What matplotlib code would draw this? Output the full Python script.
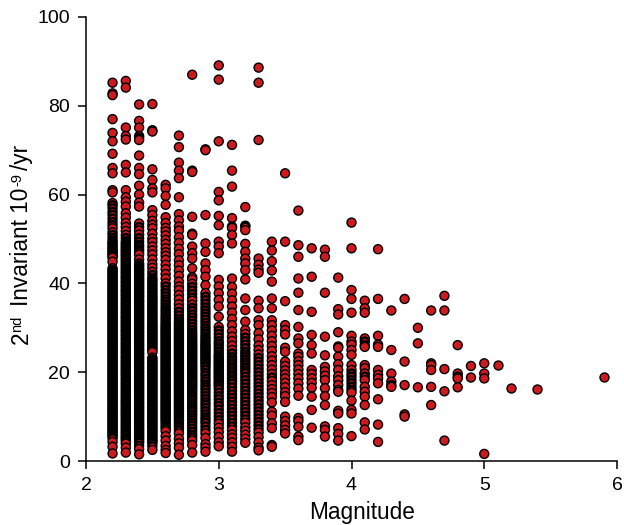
# Magnitude vs 2nd invariant scatter
import matplotlib
matplotlib.use('Agg')
import matplotlib.pyplot as plt

# values, one list per magnitude bin
m22 = [85.2,82.8,82.4,77.0,73.9,72.0,69.2,66.0,64.8,61.0,60.5,58.1,57.6,56.9,56.1,55.4,54.6,53.8,53.1,52.4,51.5,50.9,50.2,49.6,49.2,48.9,48.5,48.1,47.8,47.4,47.1,46.8,46.5,46.1,45.8,44.9,43.4,43.0,42.7,42.4,42.0,41.7,41.3,41.0,40.7,40.3,40.0,39.7,39.3,39.0,38.7,38.3,38.0,37.7,37.4,37.0,36.7,36.4,36.0,35.7,35.4,35.0,34.7,34.4,34.1,33.7,33.4,33.1,32.7,32.4,32.1,31.8,31.4,31.1,30.8,30.4,30.1,29.8,29.5,29.1,28.8,28.5,28.1,27.8,27.5,27.2,26.8,26.5,26.2,25.8,25.5,25.2,24.9,24.5,24.2,23.9,23.5,23.2,22.9,22.6,22.2,21.9,21.6,21.2,20.9,20.6,20.3,19.9,19.6,19.3,18.9,18.6,18.3,18.0,17.6,17.3,17.0,16.6,16.3,16.0,15.7,15.3,15.0,14.7,14.3,14.0,13.7,13.4,13.0,12.7,12.4,12.0,11.7,11.4,11.1,10.7,10.4,10.1,9.7,9.4,9.1,8.8,8.4,8.1,7.8,7.4,7.1,6.8,6.5,6.1,5.8,5.5,5.1,4.3,3.2,1.7]
m23 = [85.6,84.1,75.1,73.2,72.4,66.7,65.0,61.0,59.4,58.4,57.3,55.8,54.8,53.6,52.7,51.8,50.9,50.2,49.5,49.1,48.8,48.4,48.1,47.7,47.4,47.1,46.7,46.4,46.1,45.7,45.4,45.1,44.7,44.4,44.1,43.7,43.4,43.1,42.7,42.4,42.1,41.7,41.4,41.1,40.7,40.4,40.1,39.7,39.4,39.1,38.7,38.4,38.1,37.7,37.4,37.1,36.7,36.4,36.1,35.7,35.4,35.1,34.7,34.4,34.1,33.7,33.4,33.1,32.7,32.4,32.1,31.7,31.4,31.1,30.7,30.4,30.1,29.7,29.4,29.1,28.7,28.4,28.1,27.7,27.4,27.1,26.7,26.4,26.1,25.7,25.4,25.1,24.7,24.4,24.1,23.7,23.4,23.1,22.7,22.4,22.1,21.7,21.4,21.1,20.7,20.4,20.1,19.7,19.4,19.1,18.7,18.4,18.1,17.7,17.4,17.1,16.7,16.4,16.1,15.7,15.4,15.1,14.7,14.4,14.1,13.7,13.4,13.1,12.7,12.4,12.1,11.7,11.4,11.1,10.7,10.4,10.1,9.7,9.4,9.1,8.7,8.4,8.1,7.7,7.4,7.1,6.7,6.4,6.1,5.7,5.4,5.1,4.8,4.4,3.9,3.0,1.9]
m24 = [80.3,76.6,75.1,73.2,72.8,72.3,68.8,66.0,64.6,62.0,60.0,58.2,57.3,53.5,52.7,51.9,51.0,50.2,49.4,48.7,48.2,47.6,47.1,46.5,45.4,44.5,44.1,43.8,43.4,43.1,42.8,42.4,42.1,41.8,41.4,41.1,40.8,40.4,40.1,39.8,39.4,39.1,38.8,38.4,38.1,37.8,37.4,37.1,36.8,36.4,36.1,35.8,35.4,35.1,34.8,34.4,34.1,33.8,33.4,33.1,32.8,32.4,32.1,31.8,31.4,31.1,30.8,30.4,30.1,29.8,29.4,29.1,28.8,28.4,28.1,27.8,27.4,27.1,26.8,26.4,26.1,25.8,25.4,25.1,24.8,24.4,24.1,23.8,23.4,23.1,22.8,22.4,22.1,21.8,21.4,21.1,20.8,20.4,20.1,19.8,19.4,19.1,18.8,18.4,18.1,17.8,17.4,17.1,16.8,16.4,16.1,15.8,15.4,15.1,14.8,14.4,14.1,13.8,13.4,13.1,12.8,12.4,12.1,11.8,11.4,11.1,10.8,10.4,10.1,9.8,9.4,9.1,8.8,8.4,8.1,7.8,7.4,7.1,6.8,6.4,6.1,5.8,5.4,5.1,4.8,4.4,4.1,3.4,2.7,1.5]
m25 = [80.4,74.5,74.2,65.7,63.3,61.4,60.5,56.5,55.4,54.1,53.2,52.4,51.2,50.1,49.3,48.3,47.4,46.5,45.4,44.3,43.5,42.6,41.9,41.2,40.8,40.4,39.9,39.5,39.0,38.6,38.2,37.8,37.3,36.9,36.5,36.1,35.7,35.3,34.9,34.5,34.1,33.7,33.3,32.9,32.5,32.1,31.7,31.3,30.9,30.6,30.3,29.9,29.6,29.3,28.9,28.6,28.3,27.9,27.6,27.3,26.9,26.6,26.3,25.9,25.6,25.3,24.9,24.5,23.3,22.9,22.6,22.3,21.9,21.6,21.3,20.9,20.6,20.3,19.9,19.6,19.3,18.9,18.6,18.3,17.9,17.6,17.3,16.9,16.6,16.3,15.9,15.6,15.3,14.9,14.6,14.3,13.9,13.6,13.3,12.9,12.6,12.3,11.9,11.6,11.3,10.9,10.6,10.3,9.9,9.6,9.3,8.9,8.6,8.3,7.9,7.6,7.3,6.9,6.6,6.3,5.9,5.6,5.3,4.9,4.6,4.3,3.9,3.3,2.5]
m26 = [62.2,61.4,59.7,57.7,54.9,53.6,52.5,51.7,50.8,49.8,48.9,47.9,47.0,46.2,45.3,44.2,43.2,42.1,41.1,40.0,39.3,38.5,37.8,37.1,36.4,35.8,35.2,34.6,34.1,33.6,33.1,32.6,32.1,31.7,31.2,30.8,30.4,30.0,29.7,29.3,29.0,28.6,28.3,27.9,27.6,27.2,26.9,26.5,26.2,25.8,25.5,25.1,24.8,24.4,24.1,23.7,23.4,23.0,22.7,22.3,22.0,21.6,21.3,20.9,20.6,20.2,19.9,19.5,19.2,18.8,18.5,18.1,17.8,17.4,17.1,16.7,16.4,16.0,15.7,15.3,15.0,14.6,14.3,13.9,13.6,13.2,12.9,12.5,12.2,11.8,11.5,11.1,10.8,10.4,10.1,9.7,9.4,9.0,8.6,8.1,7.7,7.3,6.7,5.6,4.6,3.4,2.5,1.8]
m27 = [73.3,70.7,67.2,65.4,63.7,59.4,55.6,54.2,52.8,51.9,50.4,49.1,47.8,46.6,45.2,44.1,42.9,41.7,40.4,39.3,38.5,37.4,36.4,35.3,34.4,33.6,32.8,32.0,31.4,31.0,30.6,30.2,29.8,29.4,29.0,28.6,28.2,27.8,27.4,27.0,26.6,26.2,25.8,25.4,25.0,24.6,24.2,23.8,23.4,23.0,22.6,22.2,21.8,21.4,21.0,20.6,20.2,19.8,19.4,19.0,18.6,18.2,17.8,17.4,17.0,16.6,16.2,15.8,15.4,15.0,14.6,14.2,13.8,13.4,13.0,12.6,12.2,11.8,11.4,11.0,10.6,10.2,9.8,9.4,9.0,8.5,8.0,7.5,6.9,6.2,5.0,4.0,3.0,1.4]
m28 = [87.0,65.4,65.1,55.0,51.2,50.9,48.3,46.8,45.6,43.4,41.4,40.9,39.9,39.2,38.4,37.6,36.8,36.1,35.2,34.5,33.8,33.0,32.3,31.6,30.9,30.2,29.5,28.9,28.4,27.9,27.4,26.9,26.5,26.1,25.7,25.3,24.9,24.5,24.1,23.7,23.3,22.9,22.5,22.1,21.7,21.3,20.9,20.5,20.1,19.7,19.3,18.9,18.5,18.1,17.7,17.3,16.9,16.5,16.1,15.6,15.1,14.6,14.1,13.6,13.0,12.5,12.0,11.5,11.0,10.4,9.8,9.2,8.6,8.0,7.3,6.6,5.9,5.3,4.6,3.6,1.9]
m29 = [70.2,70.0,55.4,49.0,47.1,44.5,43.0,41.5,39.6,37.8,37.0,36.2,35.4,34.6,33.9,33.2,32.5,31.8,31.1,30.4,29.8,29.2,28.6,28.0,27.5,27.0,26.5,26.1,25.7,25.3,24.9,24.5,24.1,23.7,23.3,22.9,22.5,22.1,21.6,21.1,20.5,19.8,19.2,18.5,17.9,17.2,16.6,16.0,15.3,14.6,13.9,13.2,12.6,11.9,11.2,10.5,9.8,9.2,8.6,7.8,7.0,6.2,5.2,3.8,3.0,2.1]
m30 = [89.1,85.9,72.0,60.6,58.7,55.2,53.1,49.4,48.3,46.8,40.8,39.3,37.8,36.3,34.8,32.5,30.2,29.4,28.6,27.8,27.0,26.4,25.8,25.2,24.6,24.0,23.6,23.2,22.8,22.4,22.0,21.6,21.2,20.8,20.4,20.0,19.6,19.2,18.8,18.4,18.0,17.6,17.2,16.8,16.2,15.4,14.6,13.9,13.1,12.4,11.6,10.8,10.0,9.2,8.4,7.5,6.5,5.4,4.2,3.3]
m31 = [71.2,65.4,61.8,54.7,52.8,52.5,50.9,49.0,41.1,39.2,37.7,36.2,34.8,33.4,32.0,30.6,29.2,28.0,27.0,26.0,25.0,24.2,23.4,22.8,22.2,21.6,21.0,20.4,19.8,19.2,18.6,18.0,17.4,16.6,15.8,15.0,14.2,13.4,12.6,11.8,11.0,10.2,9.4,8.6,7.8,7.0,6.0,5.2,4.2,3.2,2.1]
m32 = [57.2,53.0,52.8,52.0,48.9,47.1,45.6,44.5,43.0,40.9,36.6,34.0,31.4,29.5,28.6,27.8,27.0,26.2,25.4,24.6,24.0,23.4,22.8,22.2,21.6,21.0,20.4,19.8,19.0,18.2,17.4,16.6,15.8,15.0,14.2,13.4,12.6,11.8,11.0,10.2,9.4,8.6,7.6,6.8,5.9,5.0,4.1]
m33 = [88.6,85.2,72.3,45.6,44.2,43.1,42.4,36.1,34.4,31.7,30.6,28.8,27.4,26.0,25.0,24.0,23.2,22.4,21.6,20.8,20.0,19.2,18.4,17.6,16.8,16.0,15.2,14.4,13.6,12.8,12.0,11.2,10.4,9.6,8.8,8.0,7.2,6.4,5.4,4.2,3.0,2.4]
m34 = [49.4,47.4,45.0,42.9,40.4,36.6,34.4,31.7,30.6,29.4,28.2,27.0,25.9,24.8,23.6,22.6,21.6,20.6,19.6,18.8,18.0,17.1,16.2,15.3,14.4,13.2,11.1,10.2,8.5,7.4,3.6,3.2]
m35 = [64.8,49.4,36.0,30.6,29.5,28.5,25.5,24.6,22.4,21.4,20.4,19.5,18.6,17.6,16.6,15.5,14.6,13.3,10.0,9.0,8.0,7.0,6.2]
m36 = [56.4,48.6,46.0,41.1,37.9,34.0,30.2,27.6,26.5,24.2,23.5,22.5,21.6,20.6,19.6,18.6,17.5,16.3,14.7,9.7,9.0,7.7,5.5,4.7]
m37 = [47.9,41.5,33.6,28.4,26.1,24.2,20.5,19.6,18.6,17.6,16.5,14.5,11.5,7.5]
m38 = [47.6,46.0,37.9,28.0,23.8,21.2,20.2,19.2,18.2,16.4,14.6,12.6,7.8,7.0,5.5]
m39 = [41.3,34.2,33.0,29.0,25.8,25.5,23.5,21.8,20.5,19.1,18.2,17.1,16.0,15.6,11.3,10.7,7.4,6.1,4.6]
m40 = [53.7,47.9,38.5,36.5,33.4,28.2,26.9,26.2,25.0,23.9,21.6,20.5,19.7,19.0,18.2,17.5,16.7,16.0,15.4,13.6,11.5,10.7,5.6]
m41 = [36.1,34.4,33.4,27.6,26.9,26.1,25.7,21.6,20.9,19.7,19.0,18.2,16.7,15.6,14.5,12.6,8.7,7.1]
m42 = [47.7,36.5,28.2,26.2,25.7,20.5,19.4,18.6,17.5,13.9,8.2,4.3]
m43 = [33.9,25.0,19.7,17.9,17.1,16.7]
m44 = [36.5,22.4,17.1,10.5,10.0]
m45 = [30.0,26.5,16.6]
m46 = [33.9,22.0,21.6,20.5,16.7,12.6]
m47 = [37.2,33.9,20.7,15.7,4.6]
m48 = [26.1,19.7,19.0,18.6,16.6]
m49 = [21.4,18.8]
m50 = [22.0,19.7,18.6,1.6]
m51 = [21.6]
m52 = [16.4]
m54 = [16.3]
m59 = [19.0]

mags = [2.2,2.3,2.4,2.5,2.6,2.7,2.8,2.9,3.0,3.1,3.2,3.3,3.4,3.5,3.6,3.7,3.8,3.9,4.0,4.1,4.2,4.3,4.4,4.5,4.6,4.7,4.8,4.9,5.0,5.1,5.2,5.4,5.9]
bins = [m22,m23,m24,m25,m26,m27,m28,m29,m30,m31,m32,m33,m34,m35,m36,m37,m38,m39,m40,m41,m42,m43,m44,m45,m46,m47,m48,m49,m50,m51,m52,m54,m59]

xticks = [2,3,4,5,6]
yticks = [0,20,40,60,80,100]

plt.rcParams['font.family'] = ['Liberation Sans', 'DejaVu Sans']

fig = plt.figure(figsize=(6.24, 5.25), dpi=100)
ax = fig.add_axes([86/624, (525-461)/525, (617-86)/624, (461-17)/525])

# lower points sit on top of the ones above them
# points packed tight in a bin get a fatter edge so the stack goes black
for m, vals in zip(mags, bins):
    sizes = []
    widths = []
    for i, v in enumerate(vals):
        tight = 0 < i < len(vals)-1 and vals[i-1]-v < 0.85 and v-vals[i+1] < 0.85
        sizes.append(33 if tight else 42)
        widths.append(1.7 if tight else 1.0)
    ax.scatter([m]*len(vals), vals, s=sizes, c='#CC1A1E', edgecolors='black', linewidths=widths, zorder=3)

ax.set_xlim(2, 6)
ax.set_ylim(0, 100)
ax.set_xticks(xticks)
ax.set_yticks(yticks)
ax.spines['top'].set_visible(False)
ax.spines['right'].set_visible(False)
ax.spines['left'].set_linewidth(1.1)
ax.spines['bottom'].set_linewidth(1.1)
ax.tick_params(length=5.5, width=1.1, labelsize=14, pad=6)
ax.set_xlabel('Magnitude', fontsize=16.3, x=0.52, labelpad=5)

# y label in pieces so the superscripts sit like the original
def ylab(s, px, py, size):
    fig.text(px/624, 1-py/525, s, rotation=90, rotation_mode='anchor', ha='left', va='baseline', fontsize=size)

ylab('2', 28.3, 344, 16.3)
ylab('nd', 21, 331.5, 10.5)
ylab('Invariant 10', 28.3, 306, 16.3)
ylab('-9', 21, 186, 10.5)
ylab('/yr', 28.3, 170.5, 16.3)

fig.savefig('out.png', dpi=100)
